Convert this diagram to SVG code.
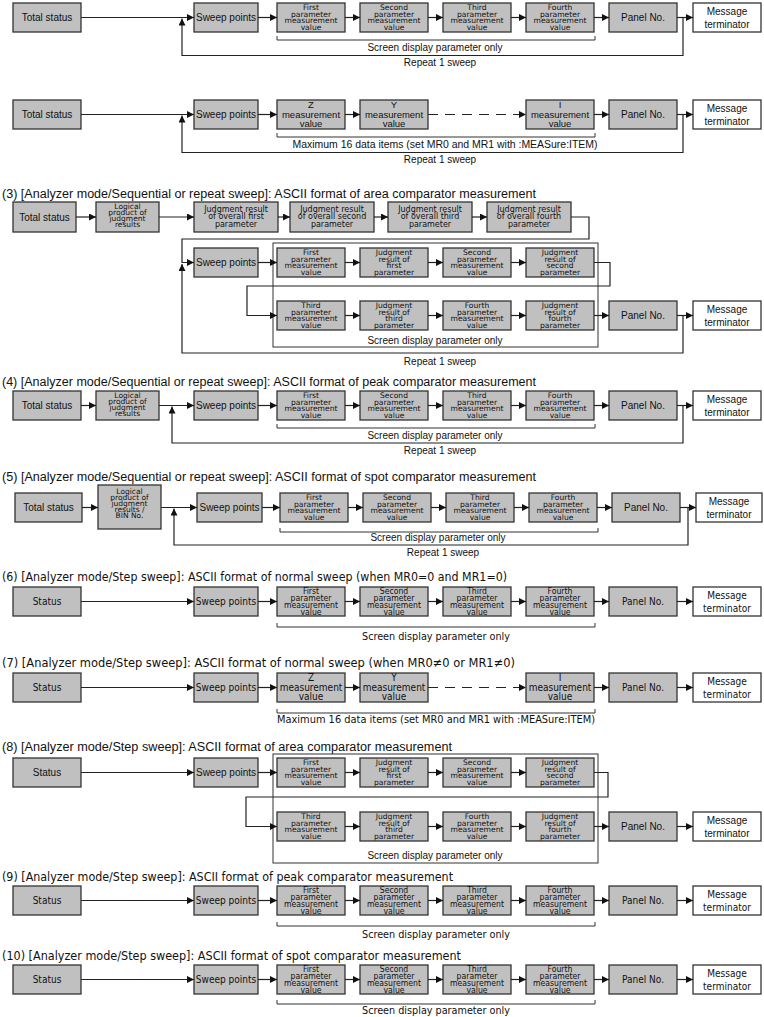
<svg xmlns="http://www.w3.org/2000/svg" width="764" height="1017" viewBox="0 0 764 1017">
<style>
.n{fill:#c0c0c0;stroke:#333;stroke-width:1.3}
.w{fill:#fff;stroke:#333;stroke-width:1.3}
.fr{fill:none;stroke:#333;stroke-width:1}
.c{fill:none;stroke:#222;stroke-width:1.2}
.a{marker-end:url(#ah)}
.d{stroke-dasharray:10 7}
.br{fill:none;stroke:#333;stroke-width:1}
text{font-family:"Liberation Sans",Arial,sans-serif;fill:#111;text-anchor:middle;font-size:10px}
.s{font-family:"DejaVu Sans",sans-serif;font-size:7.6px}
.j{font-family:"DejaVu Sans",sans-serif;font-size:8px}
.lg{font-family:"DejaVu Sans",sans-serif;font-size:7.5px}
.m{font-size:9.5px}
.ti{font-size:12px;text-anchor:start}
.cti{font-family:"DejaVu Sans Condensed","DejaVu Sans",sans-serif;font-size:12.5px;text-anchor:start}
.cn text,.ct{font-family:"DejaVu Sans Condensed","DejaVu Sans",sans-serif}
.cn .s{font-size:8.6px}
.cn .m{font-size:10px}
.ct{font-size:11px}
</style>
<defs>
<marker id="ah" viewBox="0 0 7 7" refX="7" refY="3.5" markerWidth="7" markerHeight="7" markerUnits="userSpaceOnUse" orient="auto"><path d="M0,0L7,3.5L0,7z" fill="#111"/></marker>
</defs>

<g id="titles">
<text class="ti" x="2" y="198" textLength="534" lengthAdjust="spacingAndGlyphs">(3) [Analyzer mode/Sequential or repeat sweep]: ASCII format of area comparator measurement</text>
<text class="ti" x="2" y="386" textLength="534" lengthAdjust="spacingAndGlyphs">(4) [Analyzer mode/Sequential or repeat sweep]: ASCII format of peak comparator measurement</text>
<text class="ti" x="2" y="481" textLength="534" lengthAdjust="spacingAndGlyphs">(5) [Analyzer mode/Sequential or repeat sweep]: ASCII format of spot comparator measurement</text>
<text class="cti" x="2" y="581" textLength="505" lengthAdjust="spacingAndGlyphs">(6) [Analyzer mode/Step sweep]: ASCII format of normal sweep (when MR0=0 and MR1=0)</text>
<text class="cti" x="2" y="667" textLength="513" lengthAdjust="spacingAndGlyphs">(7) [Analyzer mode/Step sweep]: ASCII format of normal sweep (when MR0≠0 or MR1≠0)</text>
<text class="ti" x="2" y="751" textLength="450" lengthAdjust="spacingAndGlyphs">(8) [Analyzer mode/Step sweep]: ASCII format of area comparator measurement</text>
<text class="cti" x="2" y="881" textLength="451" lengthAdjust="spacingAndGlyphs">(9) [Analyzer mode/Step sweep]: ASCII format of peak comparator measurement</text>
<text class="cti" x="2" y="960" textLength="459" lengthAdjust="spacingAndGlyphs">(10) [Analyzer mode/Step sweep]: ASCII format of spot comparator measurement</text>
</g>

<g id="notes">
<text x="435" y="51">Screen display parameter only</text>
<text x="440" y="66">Repeat 1 sweep</text>
<text x="445" y="147.5" textLength="305" lengthAdjust="spacingAndGlyphs">Maximum 16 data items (set MR0 and MR1 with :MEASure:ITEM)</text>
<text x="440" y="163">Repeat 1 sweep</text>
<text x="435" y="344">Screen display parameter only</text>
<text x="440" y="365">Repeat 1 sweep</text>
<text x="435" y="438.5">Screen display parameter only</text>
<text x="440" y="454">Repeat 1 sweep</text>
<text x="438" y="541">Screen display parameter only</text>
<text x="443" y="556">Repeat 1 sweep</text>
<text class="ct" x="436" y="640" textLength="148" lengthAdjust="spacingAndGlyphs">Screen display parameter only</text>
<text class="ct" x="436" y="723" textLength="318" lengthAdjust="spacingAndGlyphs">Maximum 16 data items (set MR0 and MR1 with :MEASure:ITEM)</text>
<text x="435" y="859">Screen display parameter only</text>
<text class="ct" x="436" y="938" textLength="148" lengthAdjust="spacingAndGlyphs">Screen display parameter only</text>
<text class="ct" x="436" y="1014" textLength="148" lengthAdjust="spacingAndGlyphs">Screen display parameter only</text>
</g>

<g id="brackets">
<path class="br" d="M277,36V40H595V36"/>
<path class="br" d="M277,133V137H595V133"/>
<path class="br" d="M277,424V428H595V424"/>
<path class="br" d="M280,528V532H598V528"/>
<path class="br" d="M277,623V627H595V623"/>
<path class="br" d="M277,709V713H595V709"/>
<path class="br" d="M277,922V926H595V922"/>
<path class="br" d="M277,1000V1004H595V1000"/>
<rect class="fr" x="273" y="243" width="325" height="104"/>
<rect class="fr" x="273" y="754" width="325" height="109"/>
</g>

<g id="sec1">
<g id="s1-total"><rect class="n" x="13" y="3" width="68" height="29"/><text x="47" y="21">Total status</text></g>
<g id="s1-sweep"><rect class="n" x="194" y="3" width="64" height="29"/><text x="226" y="21">Sweep points</text></g>
<g id="s1-p1"><rect class="n" x="277" y="3" width="68" height="29"/><text class="s"><tspan x="311" y="9.8">First</tspan><tspan x="311" y="16.5">parameter</tspan><tspan x="311" y="23.2">measurement</tspan><tspan x="311" y="29.9">value</tspan></text></g>
<g id="s1-p2"><rect class="n" x="360" y="3" width="68" height="29"/><text class="s"><tspan x="394" y="9.8">Second</tspan><tspan x="394" y="16.5">parameter</tspan><tspan x="394" y="23.2">measurement</tspan><tspan x="394" y="29.9">value</tspan></text></g>
<g id="s1-p3"><rect class="n" x="443" y="3" width="68" height="29"/><text class="s"><tspan x="477" y="9.8">Third</tspan><tspan x="477" y="16.5">parameter</tspan><tspan x="477" y="23.2">measurement</tspan><tspan x="477" y="29.9">value</tspan></text></g>
<g id="s1-p4"><rect class="n" x="526" y="3" width="68" height="29"/><text class="s"><tspan x="560" y="9.8">Fourth</tspan><tspan x="560" y="16.5">parameter</tspan><tspan x="560" y="23.2">measurement</tspan><tspan x="560" y="29.9">value</tspan></text></g>
<g id="s1-panel"><rect class="n" x="609" y="3" width="68" height="29"/><text x="643" y="21">Panel No.</text></g>
<g id="s1-msg"><rect class="w" x="693" y="3" width="68" height="29"/><text><tspan x="727" y="14.5">Message</tspan><tspan x="727" y="27.5">terminator</tspan></text></g>
</g>

<g id="sec2">
<g id="s2-total"><rect class="n" x="13" y="100" width="68" height="29"/><text x="47" y="118">Total status</text></g>
<g id="s2-sweep"><rect class="n" x="194" y="100" width="64" height="29"/><text x="226" y="118">Sweep points</text></g>
<g id="s2-z"><rect class="n" x="277" y="100" width="68" height="29"/><text class="m"><tspan x="311" y="108.3">Z</tspan><tspan x="311" y="117.5">measurement</tspan><tspan x="311" y="126.5">value</tspan></text></g>
<g id="s2-y"><rect class="n" x="360" y="100" width="68" height="29"/><text class="m"><tspan x="394" y="108.3">Y</tspan><tspan x="394" y="117.5">measurement</tspan><tspan x="394" y="126.5">value</tspan></text></g>
<g id="s2-i"><rect class="n" x="526" y="100" width="68" height="29"/><text class="m"><tspan x="560" y="108.3">I</tspan><tspan x="560" y="117.5">measurement</tspan><tspan x="560" y="126.5">value</tspan></text></g>
<g id="s2-panel"><rect class="n" x="609" y="100" width="68" height="29"/><text x="643" y="118">Panel No.</text></g>
<g id="s2-msg"><rect class="w" x="693" y="100" width="68" height="29"/><text><tspan x="727" y="111.5">Message</tspan><tspan x="727" y="124.5">terminator</tspan></text></g>
</g>

<g id="sec3">
<g id="s3-total"><rect class="n" x="13" y="202" width="63" height="30"/><text x="44.5" y="220.5">Total status</text></g>
<g id="s3-logical"><rect class="n" x="96" y="202" width="63" height="30"/><text class="lg"><tspan x="127.5" y="208.8">Logical</tspan><tspan x="127.5" y="215">product of</tspan><tspan x="127.5" y="221.2">judgment</tspan><tspan x="127.5" y="227.4">results</tspan></text></g>
<g id="s3-j1"><rect class="n" x="194" y="202" width="84" height="30"/><text class="j"><tspan x="236" y="211.8">Judgment result</tspan><tspan x="236" y="219.4">of overall first</tspan><tspan x="236" y="226.8">parameter</tspan></text></g>
<g id="s3-j2"><rect class="n" x="290" y="202" width="84" height="30"/><text class="j"><tspan x="332" y="211.8">Judgment result</tspan><tspan x="332" y="219.4">of overall second</tspan><tspan x="332" y="226.8">parameter</tspan></text></g>
<g id="s3-j3"><rect class="n" x="388" y="202" width="84" height="30"/><text class="j"><tspan x="430" y="211.8">Judgment result</tspan><tspan x="430" y="219.4">of overall third</tspan><tspan x="430" y="226.8">parameter</tspan></text></g>
<g id="s3-j4"><rect class="n" x="487" y="202" width="84" height="30"/><text class="j"><tspan x="529" y="211.8">Judgment result</tspan><tspan x="529" y="219.4">of overall fourth</tspan><tspan x="529" y="226.8">parameter</tspan></text></g>
<g id="s3-sweep"><rect class="n" x="194" y="248" width="64" height="29"/><text x="226" y="266">Sweep points</text></g>
<g id="s3-p1"><rect class="n" x="277" y="248" width="68" height="29"/><text class="s"><tspan x="311" y="254.8">First</tspan><tspan x="311" y="261.5">parameter</tspan><tspan x="311" y="268.2">measurement</tspan><tspan x="311" y="274.9">value</tspan></text></g>
<g id="s3-jr1"><rect class="n" x="360" y="248" width="68" height="29"/><text class="s"><tspan x="394" y="254.8">Judgment</tspan><tspan x="394" y="261.5">result of</tspan><tspan x="394" y="268.2">first</tspan><tspan x="394" y="274.9">parameter</tspan></text></g>
<g id="s3-p2"><rect class="n" x="443" y="248" width="68" height="29"/><text class="s"><tspan x="477" y="254.8">Second</tspan><tspan x="477" y="261.5">parameter</tspan><tspan x="477" y="268.2">measurement</tspan><tspan x="477" y="274.9">value</tspan></text></g>
<g id="s3-jr2"><rect class="n" x="526" y="248" width="68" height="29"/><text class="s"><tspan x="560" y="254.8">Judgment</tspan><tspan x="560" y="261.5">result of</tspan><tspan x="560" y="268.2">second</tspan><tspan x="560" y="274.9">parameter</tspan></text></g>
<g id="s3-p3"><rect class="n" x="277" y="301" width="68" height="29"/><text class="s"><tspan x="311" y="307.8">Third</tspan><tspan x="311" y="314.5">parameter</tspan><tspan x="311" y="321.2">measurement</tspan><tspan x="311" y="327.9">value</tspan></text></g>
<g id="s3-jr3"><rect class="n" x="360" y="301" width="68" height="29"/><text class="s"><tspan x="394" y="307.8">Judgment</tspan><tspan x="394" y="314.5">result of</tspan><tspan x="394" y="321.2">third</tspan><tspan x="394" y="327.9">parameter</tspan></text></g>
<g id="s3-p4"><rect class="n" x="443" y="301" width="68" height="29"/><text class="s"><tspan x="477" y="307.8">Fourth</tspan><tspan x="477" y="314.5">parameter</tspan><tspan x="477" y="321.2">measurement</tspan><tspan x="477" y="327.9">value</tspan></text></g>
<g id="s3-jr4"><rect class="n" x="526" y="301" width="68" height="29"/><text class="s"><tspan x="560" y="307.8">Judgment</tspan><tspan x="560" y="314.5">result of</tspan><tspan x="560" y="321.2">fourth</tspan><tspan x="560" y="327.9">parameter</tspan></text></g>
<g id="s3-panel"><rect class="n" x="609" y="301" width="68" height="29"/><text x="643" y="319">Panel No.</text></g>
<g id="s3-msg"><rect class="w" x="693" y="301" width="68" height="29"/><text><tspan x="727" y="312.5">Message</tspan><tspan x="727" y="325.5">terminator</tspan></text></g>
</g>

<g id="sec4">
<g id="s4-total"><rect class="n" x="13" y="391" width="68" height="29"/><text x="47" y="409">Total status</text></g>
<g id="s4-logical"><rect class="n" x="96" y="391" width="63" height="29"/><text class="lg"><tspan x="127.5" y="397.6">Logical</tspan><tspan x="127.5" y="403.8">product of</tspan><tspan x="127.5" y="410">judgment</tspan><tspan x="127.5" y="416.2">results</tspan></text></g>
<g id="s4-sweep"><rect class="n" x="194" y="391" width="64" height="29"/><text x="226" y="409">Sweep points</text></g>
<g id="s4-p1"><rect class="n" x="277" y="391" width="68" height="29"/><text class="s"><tspan x="311" y="397.8">First</tspan><tspan x="311" y="404.5">parameter</tspan><tspan x="311" y="411.2">measurement</tspan><tspan x="311" y="417.9">value</tspan></text></g>
<g id="s4-p2"><rect class="n" x="360" y="391" width="68" height="29"/><text class="s"><tspan x="394" y="397.8">Second</tspan><tspan x="394" y="404.5">parameter</tspan><tspan x="394" y="411.2">measurement</tspan><tspan x="394" y="417.9">value</tspan></text></g>
<g id="s4-p3"><rect class="n" x="443" y="391" width="68" height="29"/><text class="s"><tspan x="477" y="397.8">Third</tspan><tspan x="477" y="404.5">parameter</tspan><tspan x="477" y="411.2">measurement</tspan><tspan x="477" y="417.9">value</tspan></text></g>
<g id="s4-p4"><rect class="n" x="526" y="391" width="68" height="29"/><text class="s"><tspan x="560" y="397.8">Fourth</tspan><tspan x="560" y="404.5">parameter</tspan><tspan x="560" y="411.2">measurement</tspan><tspan x="560" y="417.9">value</tspan></text></g>
<g id="s4-panel"><rect class="n" x="609" y="391" width="68" height="29"/><text x="643" y="409">Panel No.</text></g>
<g id="s4-msg"><rect class="w" x="693" y="391" width="68" height="29"/><text><tspan x="727" y="402.5">Message</tspan><tspan x="727" y="415.5">terminator</tspan></text></g>
</g>

<g id="sec5">
<g id="s5-total"><rect class="n" x="15" y="493" width="67" height="29"/><text x="48.5" y="511">Total status</text></g>
<g id="s5-logical"><rect class="n" x="98" y="485" width="63" height="44"/><text class="lg"><tspan x="129.5" y="493.5">Logical</tspan><tspan x="129.5" y="499.7">product of</tspan><tspan x="129.5" y="505.9">judgment</tspan><tspan x="129.5" y="512.1">results /</tspan><tspan x="129.5" y="518.3">BIN No.</tspan></text></g>
<g id="s5-sweep"><rect class="n" x="197" y="493" width="65" height="29"/><text x="229.5" y="511">Sweep points</text></g>
<g id="s5-p1"><rect class="n" x="280" y="493" width="68" height="29"/><text class="s"><tspan x="314" y="499.8">First</tspan><tspan x="314" y="506.5">parameter</tspan><tspan x="314" y="513.2">measurement</tspan><tspan x="314" y="519.9">value</tspan></text></g>
<g id="s5-p2"><rect class="n" x="363" y="493" width="68" height="29"/><text class="s"><tspan x="397" y="499.8">Second</tspan><tspan x="397" y="506.5">parameter</tspan><tspan x="397" y="513.2">measurement</tspan><tspan x="397" y="519.9">value</tspan></text></g>
<g id="s5-p3"><rect class="n" x="446" y="493" width="68" height="29"/><text class="s"><tspan x="480" y="499.8">Third</tspan><tspan x="480" y="506.5">parameter</tspan><tspan x="480" y="513.2">measurement</tspan><tspan x="480" y="519.9">value</tspan></text></g>
<g id="s5-p4"><rect class="n" x="529" y="493" width="68" height="29"/><text class="s"><tspan x="563" y="499.8">Fourth</tspan><tspan x="563" y="506.5">parameter</tspan><tspan x="563" y="513.2">measurement</tspan><tspan x="563" y="519.9">value</tspan></text></g>
<g id="s5-panel"><rect class="n" x="612" y="493" width="68" height="29"/><text x="646" y="511">Panel No.</text></g>
<g id="s5-msg"><rect class="w" x="696" y="493" width="66" height="29"/><text><tspan x="729" y="504.5">Message</tspan><tspan x="729" y="517.5">terminator</tspan></text></g>
</g>

<g id="sec6" class="cn">
<g id="s6-status"><rect class="n" x="13" y="587" width="68" height="29"/><text x="47" y="605.1">Status</text></g>
<g id="s6-sweep"><rect class="n" x="194" y="587" width="64" height="29"/><text x="226" y="605.1">Sweep points</text></g>
<g id="s6-p1"><rect class="n" x="277" y="587" width="68" height="29"/><text class="s"><tspan x="311" y="594.2">First</tspan><tspan x="311" y="601.1">parameter</tspan><tspan x="311" y="608">measurement</tspan><tspan x="311" y="614.9">value</tspan></text></g>
<g id="s6-p2"><rect class="n" x="360" y="587" width="68" height="29"/><text class="s"><tspan x="394" y="594.2">Second</tspan><tspan x="394" y="601.1">parameter</tspan><tspan x="394" y="608">measurement</tspan><tspan x="394" y="614.9">value</tspan></text></g>
<g id="s6-p3"><rect class="n" x="443" y="587" width="68" height="29"/><text class="s"><tspan x="477" y="594.2">Third</tspan><tspan x="477" y="601.1">parameter</tspan><tspan x="477" y="608">measurement</tspan><tspan x="477" y="614.9">value</tspan></text></g>
<g id="s6-p4"><rect class="n" x="526" y="587" width="68" height="29"/><text class="s"><tspan x="560" y="594.2">Fourth</tspan><tspan x="560" y="601.1">parameter</tspan><tspan x="560" y="608">measurement</tspan><tspan x="560" y="614.9">value</tspan></text></g>
<g id="s6-panel"><rect class="n" x="609" y="587" width="68" height="29"/><text x="643" y="605.1">Panel No.</text></g>
<g id="s6-msg"><rect class="w" x="693" y="587" width="68" height="29"/><text><tspan x="727" y="598.5">Message</tspan><tspan x="727" y="611.5">terminator</tspan></text></g>
</g>

<g id="sec7" class="cn">
<g id="s7-status"><rect class="n" x="13" y="673" width="68" height="29"/><text x="47" y="691.1">Status</text></g>
<g id="s7-sweep"><rect class="n" x="194" y="673" width="64" height="29"/><text x="226" y="691.1">Sweep points</text></g>
<g id="s7-z"><rect class="n" x="277" y="673" width="68" height="29"/><text class="m"><tspan x="311" y="681">Z</tspan><tspan x="311" y="690.5">measurement</tspan><tspan x="311" y="700">value</tspan></text></g>
<g id="s7-y"><rect class="n" x="360" y="673" width="68" height="29"/><text class="m"><tspan x="394" y="681">Y</tspan><tspan x="394" y="690.5">measurement</tspan><tspan x="394" y="700">value</tspan></text></g>
<g id="s7-i"><rect class="n" x="526" y="673" width="68" height="29"/><text class="m"><tspan x="560" y="681">I</tspan><tspan x="560" y="690.5">measurement</tspan><tspan x="560" y="700">value</tspan></text></g>
<g id="s7-panel"><rect class="n" x="609" y="673" width="68" height="29"/><text x="643" y="691.1">Panel No.</text></g>
<g id="s7-msg"><rect class="w" x="693" y="673" width="68" height="29"/><text><tspan x="727" y="684.5">Message</tspan><tspan x="727" y="697.5">terminator</tspan></text></g>
</g>

<g id="sec8">
<g id="s8-status"><rect class="n" x="13" y="758" width="68" height="29"/><text x="47" y="776">Status</text></g>
<g id="s8-sweep"><rect class="n" x="194" y="758" width="64" height="29"/><text x="226" y="776">Sweep points</text></g>
<g id="s8-p1"><rect class="n" x="277" y="758" width="68" height="29"/><text class="s"><tspan x="311" y="764.8">First</tspan><tspan x="311" y="771.5">parameter</tspan><tspan x="311" y="778.2">measurement</tspan><tspan x="311" y="784.9">value</tspan></text></g>
<g id="s8-jr1"><rect class="n" x="360" y="758" width="68" height="29"/><text class="s"><tspan x="394" y="764.8">Judgment</tspan><tspan x="394" y="771.5">result of</tspan><tspan x="394" y="778.2">first</tspan><tspan x="394" y="784.9">parameter</tspan></text></g>
<g id="s8-p2"><rect class="n" x="443" y="758" width="68" height="29"/><text class="s"><tspan x="477" y="764.8">Second</tspan><tspan x="477" y="771.5">parameter</tspan><tspan x="477" y="778.2">measurement</tspan><tspan x="477" y="784.9">value</tspan></text></g>
<g id="s8-jr2"><rect class="n" x="526" y="758" width="68" height="29"/><text class="s"><tspan x="560" y="764.8">Judgment</tspan><tspan x="560" y="771.5">result of</tspan><tspan x="560" y="778.2">second</tspan><tspan x="560" y="784.9">parameter</tspan></text></g>
<g id="s8-p3"><rect class="n" x="277" y="812" width="68" height="29"/><text class="s"><tspan x="311" y="818.8">Third</tspan><tspan x="311" y="825.5">parameter</tspan><tspan x="311" y="832.2">measurement</tspan><tspan x="311" y="838.9">value</tspan></text></g>
<g id="s8-jr3"><rect class="n" x="360" y="812" width="68" height="29"/><text class="s"><tspan x="394" y="818.8">Judgment</tspan><tspan x="394" y="825.5">result of</tspan><tspan x="394" y="832.2">third</tspan><tspan x="394" y="838.9">parameter</tspan></text></g>
<g id="s8-p4"><rect class="n" x="443" y="812" width="68" height="29"/><text class="s"><tspan x="477" y="818.8">Fourth</tspan><tspan x="477" y="825.5">parameter</tspan><tspan x="477" y="832.2">measurement</tspan><tspan x="477" y="838.9">value</tspan></text></g>
<g id="s8-jr4"><rect class="n" x="526" y="812" width="68" height="29"/><text class="s"><tspan x="560" y="818.8">Judgment</tspan><tspan x="560" y="825.5">result of</tspan><tspan x="560" y="832.2">fourth</tspan><tspan x="560" y="838.9">parameter</tspan></text></g>
<g id="s8-panel"><rect class="n" x="609" y="812" width="68" height="29"/><text x="643" y="830">Panel No.</text></g>
<g id="s8-msg"><rect class="w" x="693" y="812" width="68" height="29"/><text><tspan x="727" y="823.5">Message</tspan><tspan x="727" y="836.5">terminator</tspan></text></g>
</g>

<g id="sec9" class="cn">
<g id="s9-status"><rect class="n" x="13" y="886" width="68" height="29"/><text x="47" y="904.1">Status</text></g>
<g id="s9-sweep"><rect class="n" x="194" y="886" width="64" height="29"/><text x="226" y="904.1">Sweep points</text></g>
<g id="s9-p1"><rect class="n" x="277" y="886" width="68" height="29"/><text class="s"><tspan x="311" y="893.2">First</tspan><tspan x="311" y="900.1">parameter</tspan><tspan x="311" y="907">measurement</tspan><tspan x="311" y="913.9">value</tspan></text></g>
<g id="s9-p2"><rect class="n" x="360" y="886" width="68" height="29"/><text class="s"><tspan x="394" y="893.2">Second</tspan><tspan x="394" y="900.1">parameter</tspan><tspan x="394" y="907">measurement</tspan><tspan x="394" y="913.9">value</tspan></text></g>
<g id="s9-p3"><rect class="n" x="443" y="886" width="68" height="29"/><text class="s"><tspan x="477" y="893.2">Third</tspan><tspan x="477" y="900.1">parameter</tspan><tspan x="477" y="907">measurement</tspan><tspan x="477" y="913.9">value</tspan></text></g>
<g id="s9-p4"><rect class="n" x="526" y="886" width="68" height="29"/><text class="s"><tspan x="560" y="893.2">Fourth</tspan><tspan x="560" y="900.1">parameter</tspan><tspan x="560" y="907">measurement</tspan><tspan x="560" y="913.9">value</tspan></text></g>
<g id="s9-panel"><rect class="n" x="609" y="886" width="68" height="29"/><text x="643" y="904.1">Panel No.</text></g>
<g id="s9-msg"><rect class="w" x="693" y="886" width="68" height="29"/><text><tspan x="727" y="897.5">Message</tspan><tspan x="727" y="910.5">terminator</tspan></text></g>
</g>

<g id="sec10" class="cn">
<g id="s10-status"><rect class="n" x="13" y="965" width="68" height="29"/><text x="47" y="983.1">Status</text></g>
<g id="s10-sweep"><rect class="n" x="194" y="965" width="64" height="29"/><text x="226" y="983.1">Sweep points</text></g>
<g id="s10-p1"><rect class="n" x="277" y="965" width="68" height="29"/><text class="s"><tspan x="311" y="972.2">First</tspan><tspan x="311" y="979.1">parameter</tspan><tspan x="311" y="986">measurement</tspan><tspan x="311" y="992.9">value</tspan></text></g>
<g id="s10-p2"><rect class="n" x="360" y="965" width="68" height="29"/><text class="s"><tspan x="394" y="972.2">Second</tspan><tspan x="394" y="979.1">parameter</tspan><tspan x="394" y="986">measurement</tspan><tspan x="394" y="992.9">value</tspan></text></g>
<g id="s10-p3"><rect class="n" x="443" y="965" width="68" height="29"/><text class="s"><tspan x="477" y="972.2">Third</tspan><tspan x="477" y="979.1">parameter</tspan><tspan x="477" y="986">measurement</tspan><tspan x="477" y="992.9">value</tspan></text></g>
<g id="s10-p4"><rect class="n" x="526" y="965" width="68" height="29"/><text class="s"><tspan x="560" y="972.2">Fourth</tspan><tspan x="560" y="979.1">parameter</tspan><tspan x="560" y="986">measurement</tspan><tspan x="560" y="992.9">value</tspan></text></g>
<g id="s10-panel"><rect class="n" x="609" y="965" width="68" height="29"/><text x="643" y="983.1">Panel No.</text></g>
<g id="s10-msg"><rect class="w" x="693" y="965" width="68" height="29"/><text><tspan x="727" y="976.5">Message</tspan><tspan x="727" y="989.5">terminator</tspan></text></g>
</g>

<g id="connectors">
<path class="c a" d="M81,17.5H194"/>
<path class="c a" d="M258,17.5H277"/>
<path class="c a" d="M345,17.5H360"/>
<path class="c a" d="M428,17.5H443"/>
<path class="c a" d="M511,17.5H526"/>
<path class="c a" d="M594,17.5H609"/>
<path class="c a" d="M677,17.5H693"/>
<path class="c a" d="M683,17.5V55.5H182V18.5"/>

<path class="c a" d="M81,114.5H194"/>
<path class="c a" d="M258,114.5H277"/>
<path class="c a" d="M345,114.5H360"/>
<path class="c a d" d="M428,114.5H526"/>
<path class="c a" d="M594,114.5H609"/>
<path class="c a" d="M677,114.5H693"/>
<path class="c a" d="M683,114.5V152.5H182V115.5"/>

<path class="c a" d="M76,217H96"/>
<path class="c a" d="M159,217H194"/>
<path class="c a" d="M278,217H290"/>
<path class="c a" d="M374,217H388"/>
<path class="c a" d="M472,217H487"/>
<path class="c a" d="M571,217H589V239H182V262.5H194"/>
<path class="c a" d="M258,262.5H277"/>
<path class="c a" d="M345,262.5H360"/>
<path class="c a" d="M428,262.5H443"/>
<path class="c a" d="M511,262.5H526"/>
<path class="c a" d="M594,262.5H610V286H247V315.5H277"/>
<path class="c a" d="M345,315.5H360"/>
<path class="c a" d="M428,315.5H443"/>
<path class="c a" d="M511,315.5H526"/>
<path class="c a" d="M594,315.5H609"/>
<path class="c a" d="M677,315.5H693"/>
<path class="c a" d="M683,315.5V353H182V264"/>

<path class="c a" d="M81,405.5H96"/>
<path class="c a" d="M159,405.5H194"/>
<path class="c a" d="M258,405.5H277"/>
<path class="c a" d="M345,405.5H360"/>
<path class="c a" d="M428,405.5H443"/>
<path class="c a" d="M511,405.5H526"/>
<path class="c a" d="M594,405.5H609"/>
<path class="c a" d="M677,405.5H693"/>
<path class="c a" d="M683,405.5V443H172V406.5"/>

<path class="c a" d="M82,507.5H98"/>
<path class="c a" d="M161,507.5H197"/>
<path class="c a" d="M262,507.5H280"/>
<path class="c a" d="M348,507.5H363"/>
<path class="c a" d="M431,507.5H446"/>
<path class="c a" d="M514,507.5H529"/>
<path class="c a" d="M597,507.5H612"/>
<path class="c a" d="M680,507.5H696"/>
<path class="c a" d="M688,507.5V545H174V508.5"/>

<path class="c a" d="M81,601.5H194"/>
<path class="c a" d="M258,601.5H277"/>
<path class="c a" d="M345,601.5H360"/>
<path class="c a" d="M428,601.5H443"/>
<path class="c a" d="M511,601.5H526"/>
<path class="c a" d="M594,601.5H609"/>
<path class="c a" d="M677,601.5H693"/>

<path class="c a" d="M81,687.5H194"/>
<path class="c a" d="M258,687.5H277"/>
<path class="c a" d="M345,687.5H360"/>
<path class="c a d" d="M428,687.5H526"/>
<path class="c a" d="M594,687.5H609"/>
<path class="c a" d="M677,687.5H693"/>

<path class="c a" d="M81,772.5H194"/>
<path class="c a" d="M258,772.5H277"/>
<path class="c a" d="M345,772.5H360"/>
<path class="c a" d="M428,772.5H443"/>
<path class="c a" d="M511,772.5H526"/>
<path class="c a" d="M594,772.5H608V797H246V826.5H277"/>
<path class="c a" d="M345,826.5H360"/>
<path class="c a" d="M428,826.5H443"/>
<path class="c a" d="M511,826.5H526"/>
<path class="c a" d="M594,826.5H609"/>
<path class="c a" d="M677,826.5H693"/>

<path class="c a" d="M81,900.5H194"/>
<path class="c a" d="M258,900.5H277"/>
<path class="c a" d="M345,900.5H360"/>
<path class="c a" d="M428,900.5H443"/>
<path class="c a" d="M511,900.5H526"/>
<path class="c a" d="M594,900.5H609"/>
<path class="c a" d="M677,900.5H693"/>

<path class="c a" d="M81,979.5H194"/>
<path class="c a" d="M258,979.5H277"/>
<path class="c a" d="M345,979.5H360"/>
<path class="c a" d="M428,979.5H443"/>
<path class="c a" d="M511,979.5H526"/>
<path class="c a" d="M594,979.5H609"/>
<path class="c a" d="M677,979.5H693"/>
</g>
</svg>
